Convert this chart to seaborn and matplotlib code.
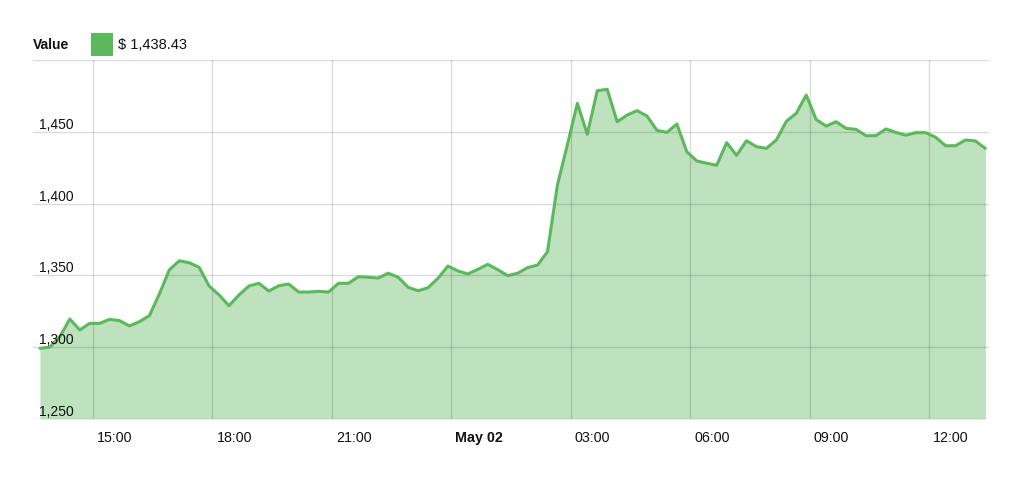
import numpy as np
import pandas as pd
import matplotlib
matplotlib.use("Agg")
import matplotlib.pyplot as plt
import matplotlib.transforms as mtransforms
from matplotlib.patches import Rectangle
import seaborn as sns

# ---------------- data ----------------
start_time = "2018-05-01 13:40"
interval = "15min"
values = [
    1299.2, 1300.0, 1307.3, 1319.6, 1312.0, 1316.6, 1316.6, 1319.4, 1318.5, 1314.8,
    1317.8, 1322.0, 1337.0, 1353.8, 1360.2, 1358.8, 1355.6, 1342.6, 1336.4, 1328.9,
    1336.4, 1342.6, 1344.5, 1339.1, 1342.8, 1344.0, 1338.4, 1338.4, 1338.9, 1338.4,
    1344.5, 1344.5, 1349.1, 1348.7, 1348.2, 1351.5, 1348.7, 1341.7, 1339.3, 1341.4,
    1348.0, 1356.5, 1353.1, 1351.0, 1354.2, 1357.7, 1354.0, 1349.8, 1351.5, 1355.4,
    1357.2, 1366.5, 1413.0, 1441.0, 1469.8, 1448.3, 1478.6, 1479.6, 1457.0, 1461.7,
    1464.7, 1461.0, 1451.0, 1449.6, 1455.4, 1436.1, 1429.7, 1428.1, 1426.7, 1442.4,
    1433.6, 1443.8, 1439.6, 1438.5, 1444.3, 1457.3, 1462.9, 1475.6, 1458.5, 1454.0,
    1457.0, 1452.4, 1451.7, 1447.3, 1447.3, 1452.0, 1449.6, 1447.6, 1449.4, 1449.4,
    1446.2, 1440.3, 1440.3, 1444.3, 1443.6, 1438.43,
]
xtick_times = ["2018-05-01 15:00", "2018-05-01 18:00", "2018-05-01 21:00",
               "2018-05-02 00:00", "2018-05-02 03:00", "2018-05-02 06:00",
               "2018-05-02 09:00", "2018-05-02 12:00"]
xtick_labels = ["15:00", "18:00", "21:00", "May 02", "03:00", "06:00", "09:00", "12:00"]
ytick_values = [1250, 1300, 1350, 1400, 1450]
y_range = [1250, 1500]
x_range = ["2018-05-01 13:30", "2018-05-02 13:30"]
series_name = "Value"

times = pd.date_range(start_time, periods=len(values), freq=interval)
df = pd.DataFrame({"time": times, "value": values})

# ---------------- style ----------------
sns.set_theme(style="white")
plt.rcParams["font.family"] = ["Liberation Sans", "DejaVu Sans"]

LINE = "#5cb85c"
TEXT = "#111111"

fig = plt.figure(figsize=(10.24, 4.8), dpi=100)
ax = fig.add_axes([33.3 / 1024, 61 / 480, 955.4 / 1024, 359 / 480])

ax.fill_between(df["time"], df["value"], y_range[0], color=LINE, alpha=0.4,
                linewidth=0, zorder=1)
sns.lineplot(data=df, x="time", y="value", ax=ax, color=LINE, linewidth=2.2,
             zorder=3)

ax.set_xlim(pd.Timestamp(x_range[0]), pd.Timestamp(x_range[1]))
ax.set_ylim(*y_range)
ax.set_xlabel("")
ax.set_ylabel("")

xt = [pd.Timestamp(t) for t in xtick_times]
ax.set_xticks(xt)
ax.set_yticks(ytick_values + [y_range[1]])
ax.tick_params(axis="both", length=0, labelbottom=False, labelleft=False)
ax.grid(True, color="black", alpha=0.14, linewidth=1.0)
ax.set_axisbelow(False)
for s in ax.spines.values():
    s.set_visible(False)

# y labels inside the plot, sitting on their grid lines
ytrans = mtransforms.blended_transform_factory(ax.transAxes, ax.transData) + \
    mtransforms.ScaledTranslation(0, 3 / 100, fig.dpi_scale_trans)
for v in ytick_values:
    ax.text(6 / 955.4, v, f"{v:,}", transform=ytrans, ha="left", va="baseline",
            fontsize=10, color=TEXT, zorder=5)

# x labels, left-aligned just right of their grid lines
xtrans = mtransforms.blended_transform_factory(ax.transData, ax.transAxes) + \
    mtransforms.ScaledTranslation(4 / 100, 0, fig.dpi_scale_trans)
for t, lab in zip(xt, xtick_labels):
    ax.text(t, -19 / 359, lab, transform=xtrans, ha="left", va="center",
            fontsize=10.3, color=TEXT,
            fontweight="bold" if lab.startswith("May") else "normal")

# header legend
fig.text(33 / 1024, 1 - 45 / 480, series_name, ha="left", va="center",
         fontsize=10, fontweight="bold", color=TEXT)
fig.patches.append(Rectangle((91 / 1024, (480 - 56) / 480), 22 / 1024, 23 / 480,
                             transform=fig.transFigure, facecolor=LINE,
                             edgecolor="none"))
fig.text(118 / 1024, 1 - 45 / 480, f"$ {values[-1]:,.2f}", ha="left",
         va="center", fontsize=10.5, color=TEXT)

fig.savefig("out.png", dpi=100)
